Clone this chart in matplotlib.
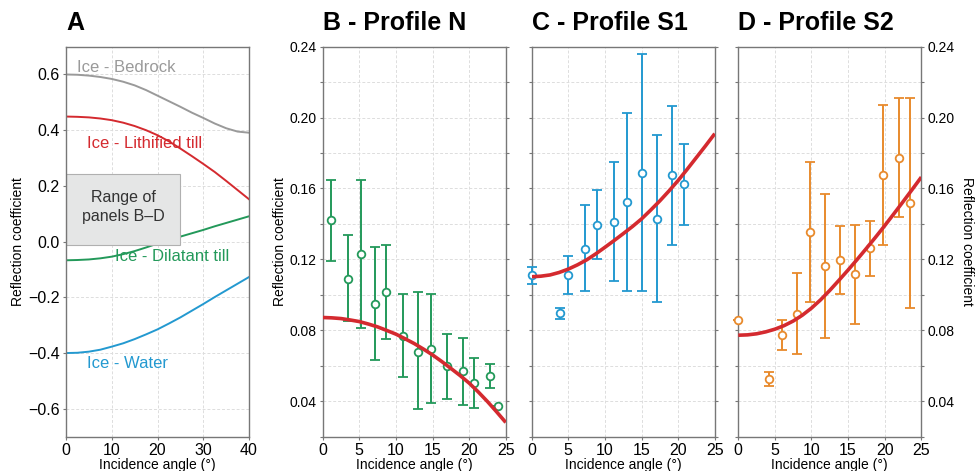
import matplotlib
matplotlib.use("Agg")
import matplotlib.pyplot as plt
from matplotlib.patches import Rectangle
from matplotlib.ticker import MultipleLocator

plt.rcParams['font.family'] = ['Liberation Sans', 'DejaVu Sans']

# Panel A - theoretical reflection coefficients
angle_a = [0, 2.5, 5, 7.5, 10, 12.5, 15, 17.5, 20, 22.5, 25, 27.5, 30, 32.5, 35, 37.5, 40]
bedrock = [0.600, 0.599, 0.596, 0.591, 0.584, 0.574, 0.561, 0.544, 0.524, 0.504, 0.484,
           0.463, 0.444, 0.424, 0.407, 0.395, 0.391]
lithified = [0.449, 0.448, 0.446, 0.442, 0.436, 0.427, 0.415, 0.400, 0.382, 0.360, 0.334,
             0.307, 0.279, 0.250, 0.218, 0.185, 0.152]
dilatant = [-0.067, -0.066, -0.064, -0.060, -0.054, -0.045, -0.034, -0.021, -0.007, 0.006,
            0.018, 0.030, 0.042, 0.055, 0.067, 0.079, 0.091]
water = [-0.400, -0.399, -0.395, -0.388, -0.377, -0.365, -0.350, -0.333, -0.315, -0.294,
         -0.272, -0.248, -0.224, -0.199, -0.175, -0.151, -0.127]

# Panel B - Profile N
n_x = [1.1, 3.5, 5.3, 7.2, 8.7, 11.0, 13.0, 14.8, 17.0, 19.1, 20.7, 22.9, 24.0]
n_y = [0.142, 0.109, 0.123, 0.095, 0.1015, 0.077, 0.068, 0.0696, 0.060, 0.057, 0.050, 0.054, 0.037]
n_lo = [0.119, 0.085, 0.081, 0.063, 0.075, 0.0536, 0.0353, 0.039, 0.0415, 0.038, 0.0362, 0.0475, 0.037]
n_hi = [0.165, 0.134, 0.165, 0.127, 0.128, 0.1004, 0.1013, 0.1004, 0.078, 0.0758, 0.0642, 0.0607, 0.037]

# Panel C - Profile S1
s1_x = [0.0, 3.9, 5.0, 7.3, 8.9, 11.2, 13.0, 15.1, 17.1, 19.1, 20.8]
s1_y = [0.111, 0.0896, 0.111, 0.126, 0.1396, 0.1413, 0.1523, 0.1689, 0.1428, 0.1674, 0.1623]
s1_lo = [0.106, 0.0862, 0.1004, 0.1019, 0.1202, 0.1079, 0.1019, 0.1019, 0.0957, 0.1283, 0.1396]
s1_hi = [0.1155, 0.0928, 0.122, 0.1508, 0.1589, 0.1749, 0.2023, 0.2358, 0.1904, 0.2064, 0.1849]

# Panel D - Profile S2
s2_x = [0.0, 4.2, 6.0, 8.0, 9.8, 11.9, 13.9, 15.9, 18.0, 19.7, 21.9, 23.5]
s2_y = [0.0858, 0.0526, 0.0772, 0.0891, 0.1355, 0.116, 0.1196, 0.1117, 0.1264, 0.1677, 0.1774, 0.1517]
s2_lo = [0.0858, 0.0485, 0.0687, 0.0664, 0.096, 0.0758, 0.1004, 0.0838, 0.1104, 0.1281, 0.1438, 0.0928]
s2_hi = [0.0858, 0.0566, 0.0858, 0.1121, 0.1749, 0.1566, 0.139, 0.1396, 0.1419, 0.207, 0.2111, 0.2108]

# fitted curves
fit_x = [0, 1.25, 2.5, 3.75, 5, 6.25, 7.5, 8.75, 10, 11.25, 12.5, 13.75, 15, 16.25,
         17.5, 18.75, 20, 21.25, 22.5, 23.75, 25]
fit_n = [0.0872, 0.0870, 0.0866, 0.0858, 0.0849, 0.0835, 0.0819, 0.0799, 0.0778, 0.0752,
         0.0725, 0.0694, 0.0661, 0.0624, 0.0585, 0.0545, 0.0502, 0.0452, 0.0398, 0.0340, 0.0280]
fit_s1 = [0.1102, 0.1105, 0.1112, 0.1126, 0.1145, 0.1169, 0.1197, 0.1231, 0.1268, 0.1306,
          0.1345, 0.1385, 0.1428, 0.1478, 0.1530, 0.1586, 0.1645, 0.1709, 0.1775, 0.1841, 0.1909]
fit_s2 = [0.0772, 0.0774, 0.0780, 0.0791, 0.0806, 0.0826, 0.0852, 0.0885, 0.0925, 0.0972,
          0.1025, 0.1082, 0.1140, 0.1200, 0.1262, 0.1325, 0.1390, 0.1457, 0.1525, 0.1594, 0.1664]

GRAY = '#9a9a9a'
RED = '#d42a2f'
GREEN = '#23995a'
BLUE = '#2399d0'
ORANGE = '#e88a2c'
SPINE = '#777777'

fig = plt.figure(figsize=(9.79, 4.71), dpi=100)
bottom, height = 0.073, 0.828
width = 0.187
axA = fig.add_axes([0.0674, bottom, width, height])
axB = fig.add_axes([0.3296, bottom, width, height])
axC = fig.add_axes([0.5431, bottom, width, height])
axD = fig.add_axes([0.7541, bottom, width, height])


def style(ax):
    for s in ax.spines.values():
        s.set_color(SPINE)
        s.set_linewidth(1.0)
    ax.tick_params(which='both', direction='out', length=2.5, width=0.8,
                   color=SPINE, pad=2, labelsize=11.5)
    ax.grid(True, which='both', color='#dddddd', linestyle=(0, (3, 2)), linewidth=0.7)
    ax.set_axisbelow(True)
    ax.set_xlabel('Incidence angle (°)', fontsize=10, labelpad=0)


# Panel A
style(axA)
axA.plot(angle_a, bedrock, color=GRAY, lw=1.4)
axA.plot(angle_a, lithified, color=RED, lw=1.4)
axA.plot(angle_a, dilatant, color=GREEN, lw=1.4)
axA.plot(angle_a, water, color=BLUE, lw=1.4)
axA.set_xlim(0, 40)
axA.set_ylim(-0.7, 0.7)
axA.xaxis.set_major_locator(MultipleLocator(10))
axA.set_yticks([0.6, 0.4, 0.2, 0.0, -0.2, -0.4, -0.6])
axA.set_yticklabels(['0.6', '0.4', '0.2', '0.0', '\u22120.2', '\u22120.4', '\u22120.6'])
axA.set_ylabel('Reflection coefficient', fontsize=10, labelpad=2)
axA.text(2.3, 0.626, 'Ice - Bedrock', color=GRAY, fontsize=12, va='center')
axA.text(4.5, 0.351, 'Ice - Lithified till', color=RED, fontsize=12, va='center')
axA.text(10.7, -0.052, 'Ice - Dilatant till', color=GREEN, fontsize=12, va='center')
axA.text(4.7, -0.437, 'Ice - Water', color=BLUE, fontsize=12, va='center')
axA.add_patch(Rectangle((0, -0.012), 25, 0.255, facecolor='#e5e6e6',
                        edgecolor='#b0b0b0', lw=0.8, zorder=2))
axA.text(12.5, 0.125, 'Range of\npanels B\u2013D', ha='center', va='center',
         fontsize=11.5, color='#333333', linespacing=1.3, zorder=3)
axA.set_title('A', loc='left', fontsize=18, fontweight='bold', pad=12)


def profile(ax, x, y, lo, hi, fy, color, title):
    style(ax)
    yerr = [[v - l for v, l in zip(y, lo)], [h - v for v, h in zip(y, hi)]]
    ax.errorbar(x, y, yerr=yerr, fmt='o', color=color, ecolor=color,
                elinewidth=1.4, capsize=3.5, capthick=1.4, markersize=5.5,
                markerfacecolor='white', markeredgecolor=color,
                markeredgewidth=1.3, zorder=3, clip_on=False)
    ax.plot(fit_x, fy, color=RED, lw=2.6, zorder=4, solid_capstyle='butt')
    ax.set_xlim(0, 25)
    ax.set_ylim(0.02, 0.24)
    ax.xaxis.set_major_locator(MultipleLocator(5))
    ax.yaxis.set_major_locator(MultipleLocator(0.04))
    ax.yaxis.set_minor_locator(MultipleLocator(0.02))
    ax.tick_params(axis='y', which='both', left=True, right=True, labelsize=10)
    ax.set_title(title, loc='left', fontsize=18, fontweight='bold', pad=12)


profile(axB, n_x, n_y, n_lo, n_hi, fit_n, GREEN, 'B - Profile N')
axB.set_yticks([0.04, 0.08, 0.12, 0.16, 0.20, 0.24])
axB.set_yticklabels(['0.04', '0.08', '0.12', '0.16', '0.20', '0.24'])
axB.set_ylabel('Reflection coefficient', fontsize=10, labelpad=2)

profile(axC, s1_x, s1_y, s1_lo, s1_hi, fit_s1, BLUE, 'C - Profile S1')
axC.tick_params(axis='y', labelleft=False)

profile(axD, s2_x, s2_y, s2_lo, s2_hi, fit_s2, ORANGE, 'D - Profile S2')
axD.set_yticks([0.04, 0.08, 0.12, 0.16, 0.20, 0.24])
axD.set_yticklabels(['0.04', '0.08', '0.12', '0.16', '0.20', '0.24'])
axD.tick_params(axis='y', labelleft=False, labelright=True)
axD.yaxis.set_label_position('right')
axD.set_ylabel('Reflection coefficient', fontsize=10, rotation=-90, labelpad=14)

fig.savefig('out.png', dpi=100)
